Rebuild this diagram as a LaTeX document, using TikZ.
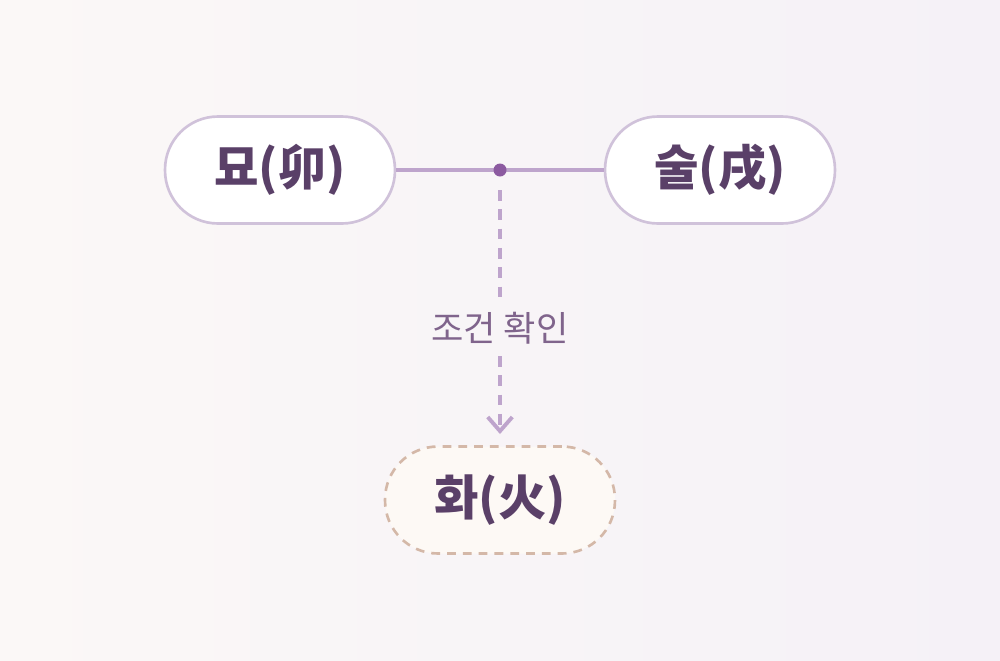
\documentclass[tikz,border=0pt]{standalone}
\usepackage{fontspec}
\setmainfont{Noto Sans CJK KR}
\usetikzlibrary{arrows.meta}
\definecolor{bgA}{RGB}{251,248,247}
\definecolor{bgB}{RGB}{245,241,247}
\definecolor{txt}{RGB}{90,64,104}
\definecolor{bord}{RGB}{208,194,218}
\definecolor{lin}{RGB}{190,164,204}
\definecolor{dotc}{RGB}{140,90,160}
\definecolor{tan}{RGB}{212,184,168}
\definecolor{cream}{RGB}{253,249,245}
\definecolor{lbl}{RGB}{128,100,140}
\tikzset{
 pill/.style={draw=bord,line width=1.5pt,fill=white,rounded corners=1.06cm,minimum width=4.6cm,minimum height=2.14cm,text=txt,font=\fontsize{27.5}{30}\selectfont\bfseries},
 pilld/.style={pill,draw=tan,fill=cream,dashed,dash pattern=on 5pt off 4pt}
}
\begin{document}
\begin{tikzpicture}[x=0.02cm,y=-0.02cm]
\shade[left color=bgA,right color=bgB] (0,0) rectangle (1000,660);
\useasboundingbox (0,0) rectangle (1000,660);
\node[pill] (a) at (280,170) {묘(卯)};
\node[pill] (b) at (720,170) {술(戌)};
\node[pilld] (c) at (500,500) {화(火)};
\draw[lin,line width=2.5pt] (a) -- (b);
\coordinate (m) at (500,170);
\fill[dotc] (m) circle (6.5);
\coordinate (e) at (500,434);
\draw[lin,line width=2.2pt,dash pattern=on 6pt off 5pt] (500,190) -- (500,300);
\draw[lin,line width=2.2pt,dash pattern=on 6pt off 5pt,-{Straight Barb[length=8pt,width=14pt,line width=2.2pt]}] (500,356) -- (e);
\node[text=lbl,font=\fontsize{20}{24}\selectfont] (l) at (500,328) {조건 확인};
\end{tikzpicture}
\end{document}
